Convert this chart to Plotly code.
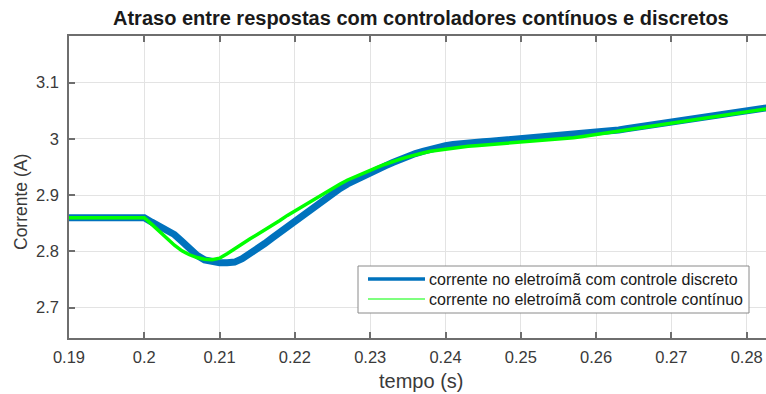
import plotly.graph_objects as go

# Sample times (s), one every millisecond
tempo = [round(0.190 + 0.001 * k, 3) for k in range(94)]

# Coil current with the discrete controller (A)
corrente_discreto = [
    2.860, 2.860, 2.860, 2.860, 2.860, 2.860, 2.860, 2.860, 2.860, 2.860,
    2.860, 2.852, 2.845, 2.838, 2.830, 2.818, 2.805, 2.793, 2.785, 2.781,
    2.780, 2.780, 2.781, 2.787, 2.795, 2.804, 2.814, 2.824, 2.834, 2.844,
    2.854, 2.864, 2.874, 2.884, 2.894, 2.903, 2.912, 2.920, 2.927, 2.934,
    2.940, 2.946, 2.952, 2.958, 2.964, 2.969, 2.974, 2.978, 2.982, 2.985,
    2.988, 2.990, 2.992, 2.993, 2.994, 2.995, 2.996, 2.997, 2.998, 2.999,
    3.000, 3.001, 3.002, 3.003, 3.004, 3.005, 3.006, 3.007, 3.008, 3.009,
    3.010, 3.012, 3.014, 3.016, 3.018, 3.020, 3.022, 3.024, 3.026, 3.028,
    3.030, 3.032, 3.034, 3.036, 3.038, 3.040, 3.042, 3.044, 3.046, 3.048,
    3.050, 3.052, 3.054, 3.056,
]

# Coil current with the continuous controller (A)
corrente_continuo = [
    2.860, 2.860, 2.860, 2.860, 2.860, 2.860, 2.860, 2.860, 2.860, 2.860,
    2.860, 2.848, 2.835, 2.822, 2.811, 2.801, 2.794, 2.789, 2.786, 2.785,
    2.788, 2.796, 2.805, 2.814, 2.822, 2.830, 2.838, 2.846, 2.855, 2.864,
    2.872, 2.880, 2.889, 2.897, 2.905, 2.913, 2.920, 2.927, 2.933, 2.939,
    2.944, 2.950, 2.955, 2.960, 2.964, 2.968, 2.972, 2.975, 2.978, 2.980,
    2.982, 2.984, 2.986, 2.987, 2.988, 2.989, 2.990, 2.991, 2.992, 2.993,
    2.994, 2.995, 2.996, 2.997, 2.998, 2.999, 3.001, 3.002, 3.004, 3.006,
    3.008, 3.010, 3.012, 3.014, 3.016, 3.018, 3.020, 3.022, 3.024, 3.026,
    3.028, 3.030, 3.032, 3.034, 3.036, 3.038, 3.040, 3.042, 3.044, 3.046,
    3.048, 3.050, 3.052, 3.054,
]

x_ticks = [0.19, 0.20, 0.21, 0.22, 0.23, 0.24, 0.25, 0.26, 0.27, 0.28]
x_tick_labels = ["0.19", "0.2", "0.21", "0.22", "0.23", "0.24", "0.25", "0.26", "0.27", "0.28"]
y_ticks = [2.7, 2.8, 2.9, 3.0, 3.1]
y_tick_labels = ["2.7", "2.8", "2.9", "3", "3.1"]

nomes = [
    "corrente no eletroímã com controle discreto",
    "corrente no eletroímã com controle contínuo",
]
cor_discreto = "#0072BD"
cor_continuo = "#00FF00"

W, H = 766, 394
fig = go.Figure()
fig.add_trace(go.Scatter(x=tempo, y=corrente_discreto, mode="lines",
                         line=dict(color=cor_discreto, width=7),
                         name=nomes[0], showlegend=False))
fig.add_trace(go.Scatter(x=tempo, y=corrente_continuo, mode="lines",
                         line=dict(color=cor_continuo, width=3.5),
                         name=nomes[1], showlegend=False))

eixo = "#6e6e6e"
fonte = "Liberation Sans, Arial, sans-serif"
fig.update_layout(
    width=W, height=H,
    margin=dict(l=69, r=0, t=36, b=56),
    plot_bgcolor="white", paper_bgcolor="white",
    font=dict(family=fonte, color="#262626"),
    xaxis=dict(range=[0.19, 0.28256], tickvals=x_ticks, ticktext=x_tick_labels,
               showgrid=True, gridcolor="#e3e3e3", gridwidth=1,
               showline=True, linecolor=eixo, linewidth=1.5, mirror="ticks",
               ticks="inside", ticklen=6, tickwidth=1.5, tickcolor=eixo,
               tickfont=dict(size=16.5, color="#3a3a3a"), ticklabelstandoff=3,
               zeroline=False),
    yaxis=dict(range=[2.646, 3.183], tickvals=y_ticks, ticktext=y_tick_labels,
               showgrid=True, gridcolor="#e3e3e3", gridwidth=1,
               showline=True, linecolor=eixo, linewidth=1.5,
               ticks="inside", ticklen=6, tickwidth=1.5, tickcolor=eixo,
               tickfont=dict(size=16.5, color="#3a3a3a"), ticklabelstandoff=5,
               zeroline=False),
)

# Title and axis labels
fig.add_annotation(text="<b>Atraso entre respostas com controladores contínuos e discretos</b>",
                   xref="paper", yref="paper", x=(421 - 69) / (W - 69), y=1 + 18 / 302,
                   showarrow=False, font=dict(size=20, color="#1a1a1a"),
                   xanchor="center", yanchor="middle")
fig.add_annotation(text="tempo (s)", xref="paper", yref="paper",
                   x=(421 - 69) / (W - 69), y=-(381 - 338) / 302,
                   showarrow=False, font=dict(size=20, color="#3a3a3a"),
                   xanchor="center", yanchor="middle")
fig.add_annotation(text="Corrente (A)", xref="paper", yref="paper",
                   x=-(69 - 21) / (W - 69), y=(338 - 202) / 302, textangle=-90,
                   showarrow=False, font=dict(size=17.5, color="#3a3a3a"),
                   xanchor="center", yanchor="middle")

# Legend box drawn in paper coordinates
def px_x(p):
    return (p - 69) / (W - 69)

def px_y(p):
    return (338 - p) / 302

fig.add_shape(type="rect", xref="paper", yref="paper",
              x0=px_x(358), x1=px_x(749), y0=px_y(313), y1=px_y(266),
              line=dict(color="#8a8a8a", width=1), fillcolor="white", layer="above")
for linha_y, cor, larg, nome in [(279, cor_discreto, 3.5, nomes[0]),
                                 (299, cor_continuo, 1.2, nomes[1])]:
    fig.add_shape(type="line", xref="paper", yref="paper",
                  x0=px_x(368), x1=px_x(425), y0=px_y(linha_y), y1=px_y(linha_y),
                  line=dict(color=cor, width=larg), layer="above")
    fig.add_annotation(text=nome, xref="paper", yref="paper",
                       x=px_x(427), y=px_y(linha_y), showarrow=False,
                       xanchor="left", yanchor="middle",
                       font=dict(size=16, color="#1a1a1a"))

fig.write_html("out.html")
